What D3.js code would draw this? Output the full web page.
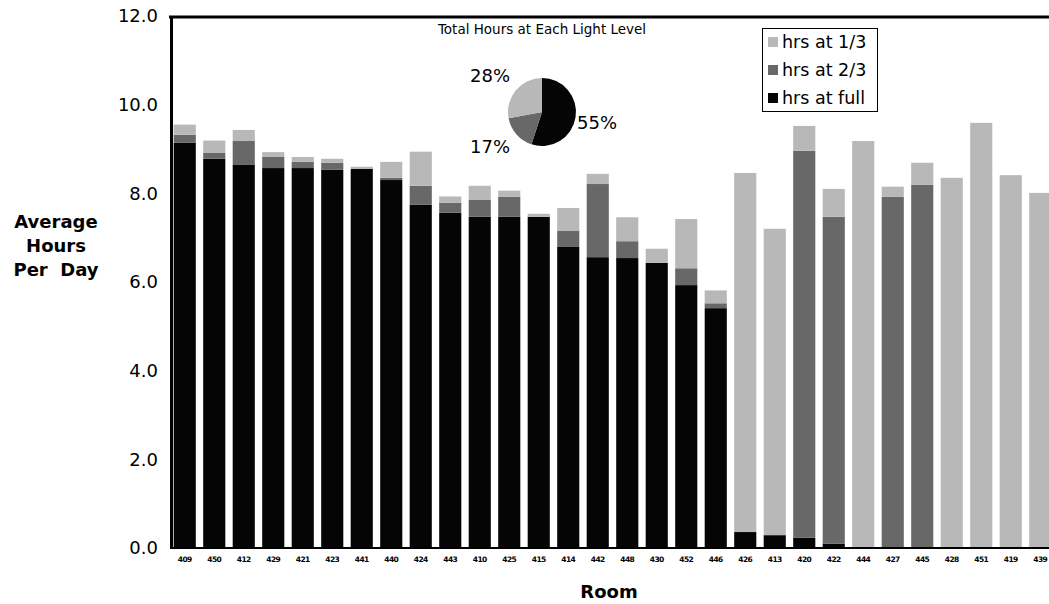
<!DOCTYPE html>
<html>
<head>
<meta charset="utf-8">
<script src="https://cdn.jsdelivr.net/npm/d3@7/dist/d3.min.js"></script>
<style>
  html, body { margin: 0; padding: 0; background: #fff; }
  svg { display: block; }
  text { font-family: "DejaVu Sans", "Liberation Sans", Arial, sans-serif; fill: #000; }
</style>
</head>
<body>
<svg id="chart" width="1049" height="604"></svg>
<script>
// Rooms, in the order they appear along the x axis
const rooms = ["409","450","412","429","421","423","441","440","424","443",
               "410","425","415","414","442","448","430","452","446","426",
               "413","420","422","444","427","445","428","451","419","439"];

// Average hours per day at each light level
const hrsFull = [9.14, 8.78, 8.64, 8.57, 8.57, 8.53, 8.55, 8.30, 7.74, 7.56,
                 7.47, 7.47, 7.47, 6.79, 6.56, 6.54, 6.43, 5.93, 5.41, 0.36,
                 0.29, 0.23, 0.10, 0.00, 0.00, 0.00, 0.00, 0.00, 0.00, 0.00];
const hrsTwoThirds = [0.18, 0.14, 0.54, 0.25, 0.14, 0.16, 0.00, 0.05, 0.43, 0.23,
                      0.38, 0.45, 0.00, 0.36, 1.65, 0.38, 0.00, 0.38, 0.11, 0.00,
                      0.00, 8.73, 7.37, 0.00, 7.92, 8.19, 0.00, 0.00, 0.00, 0.00];
const hrsOneThird = [0.23, 0.27, 0.25, 0.11, 0.11, 0.09, 0.05, 0.36, 0.77, 0.14,
                     0.32, 0.14, 0.07, 0.52, 0.23, 0.54, 0.32, 1.11, 0.29, 8.10,
                     6.91, 0.56, 0.63, 9.18, 0.23, 0.50, 8.35, 9.59, 8.41, 8.01];

// Share of total hours at each light level (inset pie)
const pieLabels = ["hrs at full", "hrs at 2/3", "hrs at 1/3"];
const pieShares = [55, 17, 28];

// Y axis ticks
const yTicks = [0, 2, 4, 6, 8, 10, 12];

// Series keys, stacked bottom to top
const seriesKeys = ["full", "twoThirds", "oneThird"];
const seriesNames = {full: "hrs at full", twoThirds: "hrs at 2/3", oneThird: "hrs at 1/3"};
const fills = {full: "#050505", twoThirds: "#686868", oneThird: "#b8b8b8"};

const svg = d3.select("#chart");

const rows = rooms.map((r, i) => ({
  room: r, full: hrsFull[i], twoThirds: hrsTwoThirds[i], oneThird: hrsOneThird[i]
}));

const x = d3.scaleBand().domain(rooms).range([170, 1055])
  .paddingInner(0.25).paddingOuter(0.125);
const y = d3.scaleLinear().domain([0, 12]).range([548, 16]);

// Stacked bars
const stacked = d3.stack().keys(seriesKeys)(rows);
svg.append("g").selectAll("g")
  .data(stacked).join("g")
  .attr("fill", d => fills[d.key])
  .selectAll("rect")
  .data(d => d).join("rect")
  .attr("x", d => x(d.data.room))
  .attr("width", x.bandwidth())
  .attr("y", d => y(d[1]))
  .attr("height", d => Math.max(0, y(d[0]) - y(d[1])));

// Frame: top edge of plot area
svg.append("line")
  .attr("x1", 169).attr("x2", 1049)
  .attr("y1", y(12) + 1).attr("y2", y(12) + 1)
  .attr("stroke", "#000").attr("stroke-width", 3);

// Y axis
const yAxis = svg.append("g")
  .attr("transform", "translate(171,0)")
  .call(d3.axisLeft(y).tickValues(yTicks).tickSize(0).tickPadding(13).tickFormat(d3.format(".1f")));
yAxis.select(".domain").attr("stroke", "#000").attr("stroke-width", 3);
yAxis.selectAll("text")
  .style("font-family", "'DejaVu Sans', sans-serif")
  .style("font-size", "18px").attr("fill", "#000");

// X axis
const xAxis = svg.append("g")
  .attr("transform", `translate(0,${y(0)})`)
  .call(d3.axisBottom(x).tickSize(0).tickPadding(9));
xAxis.select(".domain").attr("d", `M170,0H1049`).attr("stroke", "#000").attr("stroke-width", 2);
xAxis.selectAll("text")
  .style("font-family", "'DejaVu Sans', sans-serif")
  .style("font-size", "7.5px").style("font-weight", "bold")
  .style("letter-spacing", "-0.5px").attr("fill", "#000");

// Axis titles
svg.append("text")
  .attr("x", 609).attr("y", 598)
  .attr("text-anchor", "middle")
  .style("font-size", "18px").style("font-weight", "bold")
  .text("Room");

const yTitle = svg.append("text")
  .attr("text-anchor", "middle")
  .style("font-size", "18px").style("font-weight", "bold");
["Average", "Hours", "Per  Day"].forEach((t, i) => {
  yTitle.append("tspan").attr("x", 56).attr("y", 228 + i * 24)
    .attr("xml:space", "preserve").style("white-space", "pre").text(t);
});

// Inset pie of total hours
svg.append("text")
  .attr("x", 542).attr("y", 34)
  .attr("text-anchor", "middle")
  .style("font-size", "13.5px")
  .text("Total Hours at Each Light Level");

const pieData = d3.pie().sort(null).value(d => d)(pieShares);
const arc = d3.arc().innerRadius(0).outerRadius(34);
const pieFills = [fills.full, fills.twoThirds, fills.oneThird];
const pieG = svg.append("g").attr("transform", "translate(542,112)");
pieG.selectAll("path").data(pieData).join("path")
  .attr("d", arc)
  .attr("fill", (d, i) => pieFills[i]);

const pieLabelPos = [[597, 129], [490, 153], [490, 82]];
pieData.forEach((d, i) => {
  svg.append("text")
    .attr("x", pieLabelPos[i][0]).attr("y", pieLabelPos[i][1])
    .attr("text-anchor", "middle")
    .style("font-size", "18px")
    .text(d3.format("d")(d.data) + "%");
});

// Legend
const legend = svg.append("g");
legend.append("rect")
  .attr("x", 762.5).attr("y", 28.5).attr("width", 115).attr("height", 83)
  .attr("fill", "#fff").attr("stroke", "#000").attr("stroke-width", 1);
["oneThird", "twoThirds", "full"].forEach((k, i) => {
  const cy = 42 + i * 28;
  legend.append("rect")
    .attr("x", 768).attr("y", cy - 5).attr("width", 10).attr("height", 10)
    .attr("fill", fills[k]);
  legend.append("text")
    .attr("x", 782).attr("y", cy + 6)
    .style("font-size", "17.5px")
    .text(seriesNames[k]);
});
</script>
</body>
</html>
